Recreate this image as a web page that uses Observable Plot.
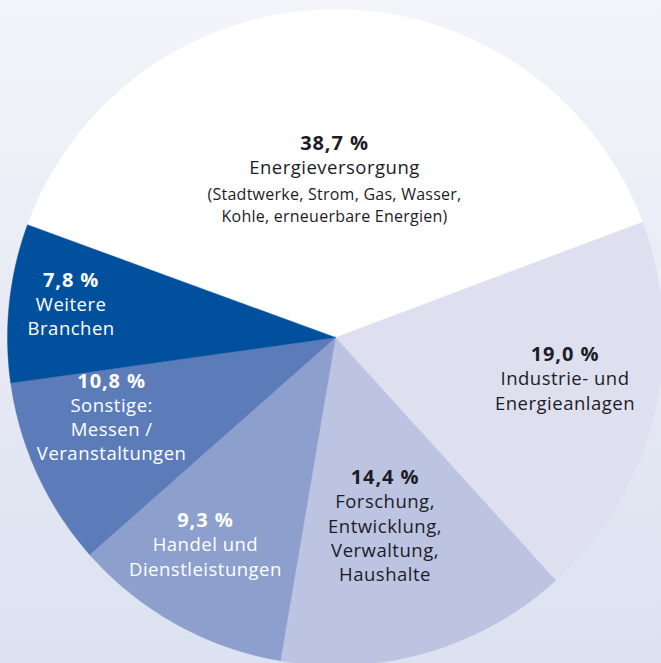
<!DOCTYPE html>
<html><head><meta charset="utf-8">
<script src="https://cdn.jsdelivr.net/npm/d3@7"></script>
<script src="https://cdn.jsdelivr.net/npm/@observablehq/plot@0.6"></script>
<style>
html,body{margin:0;padding:0;}
body{width:661px;height:663px;overflow:hidden;background:linear-gradient(to bottom,#f4f5fa 0%,#e6e9f4 55%,#dce2f1 100%);}
#chart svg{display:block;}
#chart g[font-size="20"]{letter-spacing:0.9px;}
#chart g[font-size="18.5"]{letter-spacing:0.5px;}
#chart g[font-size="16"]{letter-spacing:0.25px;}
</style></head><body><div id="chart"></div>
<script>
// ---- data ----
const categories = ["Energieversorgung", "Industrie- und Energieanlagen", "Forschung, Entwicklung, Verwaltung, Haushalte", "Handel und Dienstleistungen", "Sonstige: Messen / Veranstaltungen", "Weitere Branchen"];
// printed percentages
const percentLabels = ["38,7 %", "19,0 %", "14,4 %", "9,3 %", "10,8 %", "7,8 %"];
// wedge sizes as drawn in the reference (the Handel and Sonstige wedges are drawn at each other's sizes there)
const wedgeShares = [38.7, 19.0, 14.4, 10.8, 9.3, 7.8];
const nameLines = ["Energieversorgung", "Industrie- und\nEnergieanlagen", "Forschung,\nEntwicklung,\nVerwaltung,\nHaushalte", "Handel und\nDienstleistungen", "Sonstige:\nMessen /\nVeranstaltungen", "Weitere\nBranchen"];
const notes = ["(Stadtwerke, Strom, Gas, Wasser,\nKohle, erneuerbare Energien)", "", "", "", "", ""];
const colors = ["#ffffff", "#dfe0ef", "#bcc4e1", "#8d9fcc", "#5b7cb9", "#00509d"];

// ---- layout ----
const startAngle = -69.9;               // degrees clockwise from 12 o'clock
const labelAngleNudge = [-0.06, -9.02, -3.04, 6.1, 13.42, 5.94];
const labelRadius = [0.587, 0.702, 0.457, 0.688, 0.696, 0.824];
const R = 328, cx = 335, cy = 337;

const total = d3.sum(wedgeShares);
let acc = startAngle;
const slices = categories.map((name, i) => {
  const a0 = acc, a1 = acc + wedgeShares[i] / total * 360; acc = a1;
  return {name, a0, a1, mid: (a0 + a1) / 2, i};
});
// polar chart on a sphere: pole = centre, equator = outer rim
const lon = t => 180 - t;
const lat = f => 90 - 90 * f;
function wedge(s) {
  const ring = [[lon(s.a0), 89.9999]];
  const n = Math.ceil(s.a1 - s.a0);
  for (let k = 0; k <= n; k++) ring.push([lon(s.a0 + (s.a1 - s.a0) * k / n), 0]);
  ring.push([lon(s.a1), 89.9999]);
  ring.push(ring[0].slice());
  const f = {type: "Feature", properties: {name: s.name}, geometry: {type: "Polygon", coordinates: [ring]}};
  if (d3.geoArea(f) > 2 * Math.PI) ring.reverse();
  return f;
}
const features = slices.map(wedge);
const labels = slices.map((s, i) => ({
  i, x: lon(s.mid + labelAngleNudge[i]), y: lat(labelRadius[i]),
  pct: percentLabels[i], name: nameLines[i], note: notes[i]
}));
const textFill = d => d3.hsl(colors[d.i]).l > 0.75 ? "#1c1c28" : "#ffffff";

const projection = d3.geoAzimuthalEquidistant().rotate([0, -90]).scale(R / (Math.PI / 2)).translate([cx, cy]);

const chart = Plot.plot({
  width: 661, height: 663, margin: 0,
  projection,
  color: {domain: categories, range: colors},
  style: {background: "transparent", fontFamily: "'Open Sans', sans-serif", overflow: "visible"},
  marks: [
    Plot.geo(features, {fill: d => d.properties.name, stroke: d => d.properties.name, strokeWidth: 0.4}),
    Plot.text(labels, {x: "x", y: "y", text: "pct", fontWeight: "bold", fontSize: 20, fill: textFill, lineAnchor: "middle", dy: -1}),
    Plot.text(labels, {x: "x", y: "y", text: "name", fontSize: 18.5, fill: textFill, lineAnchor: "top", dy: 12.15, lineHeight: 24.3 / 18.5}),
    Plot.text(labels.filter(d => d.note), {x: "x", y: "y", text: "note", fontSize: 16, fill: textFill, lineAnchor: "top", dy: 39.8, lineHeight: 22 / 16})
  ]
});
document.getElementById("chart").append(chart);
</script></body></html>
